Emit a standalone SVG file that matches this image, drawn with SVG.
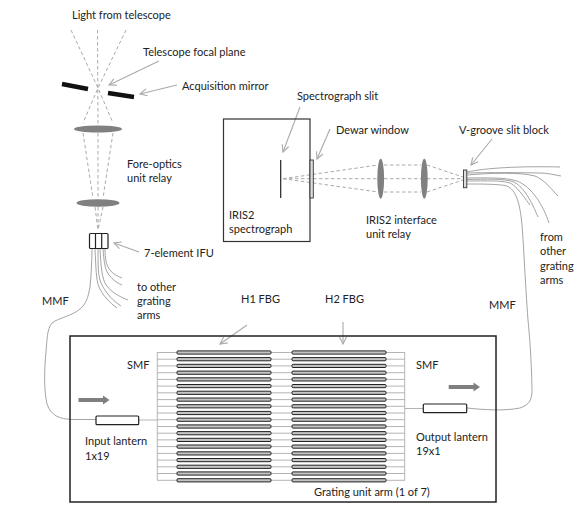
<svg xmlns="http://www.w3.org/2000/svg" width="587" height="522" viewBox="0 0 587 522">
<style>
text{font-family:"Lato","Open Sans","Liberation Sans",sans-serif;font-size:11px;fill:#222}
.d{fill:none;stroke:#aaa;stroke-width:1;stroke-dasharray:3.5 2.5}
.f{fill:none;stroke:#999;stroke-width:.9}
.s{fill:none;stroke:#b4b4b4;stroke-width:1}
.b{fill:#c4c4c4;stroke:#222;stroke-width:1}
.l{fill:#808080}
.k{fill:#fff;stroke:#222;stroke-width:1.2}
.ar{fill:none;stroke:#aaa;stroke-width:1.1}
.g{fill:#7f7f7f}
</style>
<defs>
<marker id="a" markerWidth="9" markerHeight="9" refX="8" refY="4" orient="auto" markerUnits="userSpaceOnUse"><path d="M1 .5L8 4L1 7.5" fill="none" stroke="#aaa" stroke-width="1.1"/></marker>
<rect id="bar" width="94" height="3.2" rx="1" class="b"/>
</defs>
<g id="connectors">
<path class="d" d="M71 30L98 88L113 123M97.500 30L98 125M126 30L98 88L83 123M83 133L93 198M98 133V198M113 133L103 198M95 207L98 230M98 207V230M103 207L98 230"/>
<path class="d" d="M283 178.700L378 165M283 178.700H378M283 178.700L378 192M384 165H421M384 178.700H421M384 192H421M427 165L463 177M427 178.700H463M427 192L463 180"/>
<path class="f" d="M92 249C92 262 91 276 90 287C88 298 86 304 80 309C72 316 58 318 52 323C47 329 47 340 46 352C44 372 44 390 47 404C51 416 60 419 72 419.500H96"/>
<path class="f" d="M95 249C96 268 96 280 99 287C103 296 110 303 117 308M98 249C98 265 98 276 101 283C105 292 113 301 121 306M100 249C101 268 102 278 106 285C111 292 120 297 128 300M103 249C104 262 105 270 109 275C113 280 117 283 122 285M105 249C105 258 106 265 110 270C113 274 117 276 122 278"/>
<path class="f" d="M467 172C485 168 520 166 560 167M467 173C490 172.500 520 172.500 540 173C548 173 555 175 561 176M467 175C490 173 520 172 535 176C545 180 552 190 558 196M467 178C485 178 505 177 517 181C532 187 543 205 549 223M467 179.500C485 179 505 178.500 514 182C526 188 534 208 538 217M467 181C485 181 505 180 512 184C520 190 526 200 530 205M467 184C480 184 500 184 507 186C516 190 520 203 522 225C524 250 525 280 528 320C531 350 532 380 532 393C531 402 528 405 520 408C505 411 485 410 467 408"/>
<path class="s" d="M139 420H157M157.300 352V480M404.700 352V480M405 408.500H423"/>
<path class="s" d="M157 352.500H177M157 359.200H177M157 365.900H177M157 372.700H177M157 379.400H177M157 386.100H177M157 392.800H177M157 399.600H177M157 406.300H177M157 413H177M157 419.700H177M157 426.500H177M157 433.200H177M157 439.900H177M157 446.600H177M157 453.400H177M157 460.100H177M157 466.800H177M157 473.500H177M157 480.300H177M270 352.500H292M270 359.200H292M270 365.900H292M270 372.700H292M270 379.400H292M270 386.100H292M270 392.800H292M270 399.600H292M270 406.300H292M270 413H292M270 419.700H292M270 426.500H292M270 433.200H292M270 439.900H292M270 446.600H292M270 453.400H292M270 460.100H292M270 466.800H292M270 473.500H292M270 480.300H292M386 352.500H405M386 359.200H405M386 365.900H405M386 372.700H405M386 379.400H405M386 386.100H405M386 392.800H405M386 399.600H405M386 406.300H405M386 413H405M386 419.700H405M386 426.500H405M386 433.200H405M386 439.900H405M386 446.600H405M386 453.400H405M386 460.100H405M386 466.800H405M386 473.500H405M386 480.300H405"/>
<path class="ar" marker-end="url(#a)" d="M159 61L109 85"/>
<path class="ar" marker-end="url(#a)" d="M177 85L140 94"/>
<path class="ar" marker-end="url(#a)" d="M139 252L114 243"/>
<path class="ar" marker-end="url(#a)" d="M300 107L283 152"/>
<path class="ar" marker-end="url(#a)" d="M330 129L317 159"/>
<path class="ar" marker-end="url(#a)" d="M492 139L471 165"/>
<path class="ar" marker-end="url(#a)" d="M247 325L220 344"/>
<path class="ar" marker-end="url(#a)" d="M343 322V344"/>
</g>
<g id="telescope-light"><text x="72" y="19">Light from telescope</text></g>
<g id="focal-plane"><text x="143" y="56">Telescope focal plane</text></g>
<g id="acquisition-mirror">
<path d="M62 84L88 89M108 93L134 97" stroke="#111" stroke-width="4.500" fill="none"/>
<text x="182" y="90">Acquisition mirror</text>
</g>
<g id="fore-optics">
<ellipse class="l" cx="98" cy="129" rx="24" ry="3.600"/>
<ellipse class="l" cx="98" cy="203" rx="21.500" ry="3.800"/>
<text x="127" y="168">Fore-optics</text><text x="127" y="182">unit relay</text>
</g>
<g id="ifu">
<rect class="k" x="89.500" y="233.500" width="18.500" height="15" rx="1" stroke-width="1.300"/>
<path d="M95.500 233.500V248.500M101.700 233.500V248.500" stroke="#222" stroke-width="1.200"/>
<text x="144" y="257">7-element IFU</text>
</g>
<g id="to-other"><text x="137" y="291">to other</text><text x="137" y="305">grating</text><text x="137" y="319">arms</text></g>
<g id="mmf-left"><text x="42" y="305">MMF</text></g>
<g id="spectrograph">
<rect x="223.500" y="119" width="86.500" height="122.500" fill="none" stroke="#333" stroke-width="1.200"/>
<path d="M280.700 160V198" stroke="#222" stroke-width="1.200"/>
<text x="297" y="100">Spectrograph slit</text>
<text x="229" y="219">IRIS2</text><text x="229" y="233">spectrograph</text>
</g>
<g id="dewar-window">
<rect x="310" y="160" width="3.300" height="38" fill="#ddd" stroke="#333" stroke-width=".9"/>
<text x="336" y="134">Dewar window</text>
</g>
<g id="interface-relay">
<ellipse class="l" cx="380.700" cy="178.700" rx="3.400" ry="20"/>
<ellipse class="l" cx="424.300" cy="178.700" rx="3.400" ry="20"/>
<text x="366" y="224">IRIS2 interface</text><text x="366" y="238">unit relay</text>
</g>
<g id="v-groove">
<rect x="463.500" y="170" width="3.300" height="17.700" fill="#ddd" stroke="#333" stroke-width=".9"/>
<text x="459" y="134">V-groove slit block</text>
</g>
<g id="from-other"><text x="540" y="241">from</text><text x="540" y="255">other</text><text x="540" y="270">grating</text><text x="540" y="284">arms</text></g>
<g id="mmf-right"><text x="489" y="309">MMF</text></g>
<g id="h-labels"><text x="241" y="303">H1 FBG</text><text x="325" y="303">H2 FBG</text></g>
<g id="grating-unit">
<rect x="70" y="336" width="426" height="166" fill="none" stroke="#222" stroke-width="1.500"/>
<text x="314" y="496">Grating unit arm (1 of 7)</text>
<text x="127" y="369">SMF</text><text x="416" y="369">SMF</text>
</g>
<g id="fbg-h1">
<use href="#bar" x="177" y="350.900"/><use href="#bar" x="177" y="357.600"/><use href="#bar" x="177" y="364.300"/><use href="#bar" x="177" y="371.100"/><use href="#bar" x="177" y="377.800"/><use href="#bar" x="177" y="384.500"/><use href="#bar" x="177" y="391.200"/><use href="#bar" x="177" y="398"/><use href="#bar" x="177" y="404.700"/><use href="#bar" x="177" y="411.400"/><use href="#bar" x="177" y="418.100"/><use href="#bar" x="177" y="424.900"/><use href="#bar" x="177" y="431.600"/><use href="#bar" x="177" y="438.300"/><use href="#bar" x="177" y="445"/><use href="#bar" x="177" y="451.800"/><use href="#bar" x="177" y="458.500"/><use href="#bar" x="177" y="465.200"/><use href="#bar" x="177" y="471.900"/><use href="#bar" x="177" y="478.700"/>
</g>
<g id="fbg-h2">
<use href="#bar" x="292" y="350.900"/><use href="#bar" x="292" y="357.600"/><use href="#bar" x="292" y="364.300"/><use href="#bar" x="292" y="371.100"/><use href="#bar" x="292" y="377.800"/><use href="#bar" x="292" y="384.500"/><use href="#bar" x="292" y="391.200"/><use href="#bar" x="292" y="398"/><use href="#bar" x="292" y="404.700"/><use href="#bar" x="292" y="411.400"/><use href="#bar" x="292" y="418.100"/><use href="#bar" x="292" y="424.900"/><use href="#bar" x="292" y="431.600"/><use href="#bar" x="292" y="438.300"/><use href="#bar" x="292" y="445"/><use href="#bar" x="292" y="451.800"/><use href="#bar" x="292" y="458.500"/><use href="#bar" x="292" y="465.200"/><use href="#bar" x="292" y="471.900"/><use href="#bar" x="292" y="478.700"/>
</g>
<g id="input-lantern">
<rect class="k" x="96" y="416" width="42.700" height="8.700" rx="1"/>
<path class="g" d="M78.500 398H103V395.500L109.500 400L103 404.500V402H78.500Z"/>
<text x="85" y="445">Input lantern</text><text x="85" y="460">1x19</text>
</g>
<g id="output-lantern">
<rect class="k" x="423.300" y="404" width="43.400" height="8.700" rx="1"/>
<path class="g" d="M448.700 385H473.500V382.500L480 387L473.500 391.500V389H448.700Z"/>
<text x="416" y="441">Output lantern</text><text x="416" y="455">19x1</text>
</g>
</svg>
